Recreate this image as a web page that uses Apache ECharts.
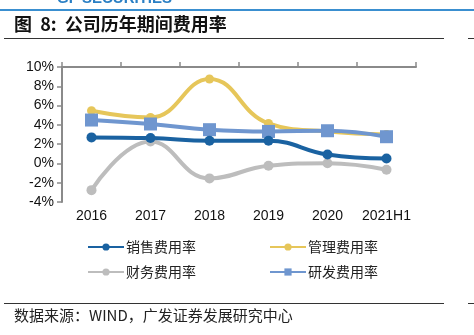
<!DOCTYPE html>
<html>
<head>
<meta charset="utf-8">
<script src="https://cdn.jsdelivr.net/npm/echarts@6/dist/echarts.min.js"></script>
<style>
html,body{margin:0;padding:0;background:#fff;}
#chart{width:474px;height:335px;}
</style>
</head>
<body>
<div id="chart"></div>
<script>
// Period expense ratios (%), by year
var categories = ['2016', '2017', '2018', '2019', '2020', '2021H1'];
var sellingRate = [2.7, 2.63, 2.35, 2.35, 0.93, 0.52];
var adminRate = [5.47, 4.77, 8.75, 4.15, 3.3, 3.0];
var financeRate = [-2.77, 2.28, -1.55, -0.24, 0.02, -0.65];
var rdRate = [4.5, 4.09, 3.5, 3.32, 3.39, 2.77];
var seriesNames = ['销售费用率', '管理费用率', '财务费用率', '研发费用率'];
var yTicks = { min: -4, max: 10, interval: 2 };

var chart = echarts.init(document.getElementById('chart'));
var cjk = '"Noto Sans CJK SC", sans-serif';
var latin = '"Liberation Sans", Arial, sans-serif';

function lineSeries(name, data, color, symbol, size) {
  return {
    name: name, type: 'line', data: data, smooth: 0.45,
    xAxisIndex: 0, yAxisIndex: 0,
    symbol: symbol, symbolSize: size, showSymbol: true,
    lineStyle: { color: color, width: 4 },
    itemStyle: { color: color },
    emphasis: { disabled: true }
  };
}

var legendCommon = {
  orient: 'vertical', top: 240, padding: 0,
  itemWidth: 36, itemHeight: 9, itemGap: 11,
  textStyle: { fontFamily: cjk, fontSize: 14, color: '#222', padding: [0, 0, 0, -3] }
};

chart.setOption({
  animation: false,
  grid: { left: 62, right: 58, top: 67, bottom: 133 },
  xAxis: [{
    type: 'category', data: categories, boundaryGap: true, position: 'bottom',
    axisLine: { show: false }, axisTick: { show: false },
    axisLabel: { color: '#111', fontFamily: latin, fontSize: 14, margin: 7, interval: 0 }
  }, {
    type: 'category', data: categories, boundaryGap: true,
    axisLine: { show: true, onZero: true, lineStyle: { color: '#8a8a8a', width: 2 } },
    axisTick: { show: true, inside: false, length: 5, interval: 0, lineStyle: { color: '#8a8a8a', width: 1.5 } },
    axisLabel: { show: false }
  }],
  yAxis: {
    type: 'value', min: yTicks.min, max: yTicks.max, interval: yTicks.interval,
    splitLine: { show: false },
    axisLine: { show: true, lineStyle: { color: '#8a8a8a', width: 2 } },
    axisTick: { show: true, length: 5, lineStyle: { color: '#8a8a8a', width: 1.5 } },
    axisLabel: { color: '#111', fontFamily: latin, fontSize: 14, margin: 8,
      formatter: function (v) { return v + '%'; } }
  },
  legend: [
    Object.assign({ data: [seriesNames[0], seriesNames[2]], left: 87 }, legendCommon),
    Object.assign({ data: [seriesNames[1], seriesNames[3]], left: 269 }, legendCommon)
  ],
  series: [
    lineSeries(seriesNames[1], adminRate, '#e6c65a', 'circle', 9),
    lineSeries(seriesNames[2], financeRate, '#bdbdbd', 'circle', 10),
    lineSeries(seriesNames[3], rdRate, '#6f96cf', 'rect', 13),
    lineSeries(seriesNames[0], sellingRate, '#1a62a1', 'circle', 10)
  ],
  graphic: [
    { type: 'text', left: 57, top: -9, style: { text: 'GF SECURITIES', fill: '#2a7fc4',
      font: 'bold 15px ' + latin } },
    { type: 'rect', shape: { x: 0, y: 9, width: 474, height: 2 }, style: { fill: '#3a8fd0' } },
    { type: 'text', left: 14, top: 15, style: { text: '图  8:  公司历年期间费用率', fill: '#111',
      font: 'bold 18px ' + cjk } },
    { type: 'rect', shape: { x: 4, y: 38, width: 440, height: 1 }, style: { fill: '#333' } },
    { type: 'rect', shape: { x: 468, y: 38, width: 6, height: 1 }, style: { fill: '#333' } },
    { type: 'rect', shape: { x: 4, y: 303, width: 440, height: 1 }, style: { fill: '#333' } },
    { type: 'rect', shape: { x: 468, y: 303, width: 6, height: 1 }, style: { fill: '#333' } },
    { type: 'text', left: 14, top: 308, style: { text: '数据来源：WIND，广发证券发展研究中心', fill: '#222',
      font: '15px ' + cjk } }
  ]
});
</script>
</body>
</html>
